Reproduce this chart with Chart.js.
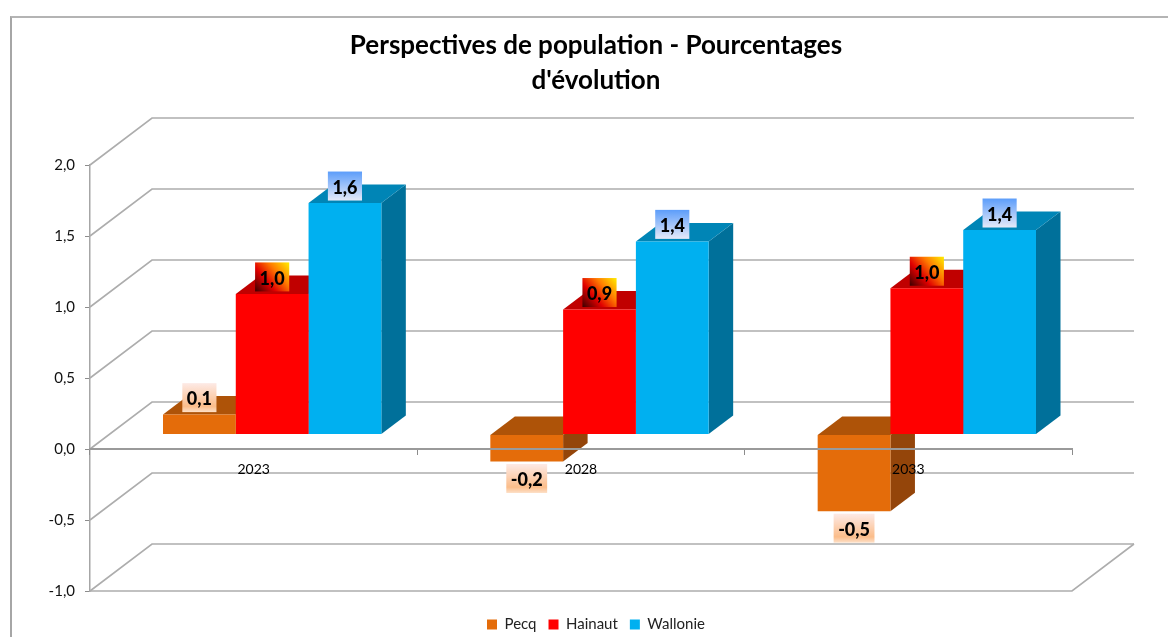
<!DOCTYPE html>
<html lang="fr">
<head>
  <meta charset="UTF-8">
  <title>Perspectives de population</title>
  <script src="https://cdn.jsdelivr.net/npm/chart.js"></script>
  <style>
    body { margin: 0; background: #fff; overflow: hidden; }
    .frame {
      position: absolute; left: 10px; top: 16px; width: 1200px; height: 700px;
      border-left: 2px solid #a6a6a6; border-top: 2px solid #b4b4b4;
    }
    .chart-container { position: absolute; left: 11px; top: 18px; width: 1170px; height: 624px; }
  </style>
</head>
<body>
  <div class="frame"></div>
  <div class="chart-container"><canvas id="chart" width="1170" height="624"></canvas></div>

  <script>
    const titleLines = ['Perspectives de population - Pourcentages', "d'évolution"];
    const categories = ['2023', '2028', '2033'];
    const pecq = [0.14, -0.19, -0.54];
    const hainaut = [0.99, 0.88, 1.03];
    const wallonie = [1.63, 1.36, 1.44];

    // 3D look: how far the walls go back, and where the bars stand in that depth
    const wallDepth = { x: 62, y: -47 };
    const barShift = { x: 18.5, y: -14.5 };
    const barDepth = { x: 24.5, y: -18.5 };
    const faceColors = [
      { top: '#ae5308', side: '#94450a' },
      { top: '#c00000', side: '#990000' },
      { top: '#0085b6', side: '#00709a' },
    ];
    const GREY = '#adadad';

    const fmt = (v) => v.toFixed(1).replace('.', ',');

    function poly(ctx, pts, color) {
      ctx.fillStyle = color;
      ctx.beginPath();
      pts.forEach((p, i) => (i ? ctx.lineTo(p[0], p[1]) : ctx.moveTo(p[0], p[1])));
      ctx.closePath();
      ctx.fill();
    }

    const wallsPlugin = {
      id: 'walls',
      beforeDatasetsDraw(chart) {
        const { ctx, chartArea: area, scales } = chart;
        ctx.save();
        ctx.strokeStyle = GREY;
        ctx.lineWidth = 1.6;
        scales.y.ticks.forEach((t) => {
          const y = scales.y.getPixelForValue(t.value);
          ctx.beginPath();
          ctx.moveTo(area.left, y);
          ctx.lineTo(area.left + wallDepth.x, y + wallDepth.y);
          ctx.lineTo(area.right + wallDepth.x, y + wallDepth.y);
          ctx.stroke();
        });
        // floor edge at the bottom of the axis
        ctx.beginPath();
        ctx.moveTo(area.left, area.bottom);
        ctx.lineTo(area.right, area.bottom);
        ctx.lineTo(area.right + wallDepth.x, area.bottom + wallDepth.y);
        ctx.stroke();
        ctx.restore();

        // bars stand a bit inside the depth, the library draws the fronts over these faces
        ctx.save();
        ctx.translate(barShift.x, barShift.y);
        chart.data.datasets.forEach((ds, i) => {
          chart.getDatasetMeta(i).data.forEach((bar) => {
            const { x, y, base, width } = bar.getProps(['x', 'y', 'base', 'width'], true);
            const l = x - width / 2;
            const r = x + width / 2;
            const top = Math.min(y, base);
            const bottom = Math.max(y, base);
            const d = barDepth;
            poly(ctx, [[r, top], [r + d.x, top + d.y], [r + d.x, bottom + d.y], [r, bottom]], faceColors[i].side);
            poly(ctx, [[l, top], [l + d.x, top + d.y], [r + d.x, top + d.y], [r, top]], faceColors[i].top);
          });
        });
      },
      afterDatasetsDraw(chart) {
        chart.ctx.restore();
      },
    };

    function labelFill(ctx, index, x, y, w, h) {
      if (index === 1) {
        const g = ctx.createLinearGradient(x, y + h, x + w, y);
        g.addColorStop(0, '#3a0000');
        g.addColorStop(0.35, '#e00000');
        g.addColorStop(0.65, '#ff7a00');
        g.addColorStop(1, '#ffee00');
        return g;
      }
      const g = ctx.createLinearGradient(0, y, 0, y + h);
      if (index === 0) {
        g.addColorStop(0, '#fdeae6');
        g.addColorStop(0.8, '#fbbd8a');
        g.addColorStop(1, '#fde0c8');
      } else {
        g.addColorStop(0, '#5c9dfa');
        g.addColorStop(1, '#e6eaf8');
      }
      return g;
    }

    const valueLabelsPlugin = {
      id: 'valueLabels',
      afterDraw(chart) {
        const { ctx } = chart;
        ctx.save();
        ctx.font = '900 18px Lato';
        ctx.textAlign = 'center';
        ctx.textBaseline = 'middle';
        chart.data.datasets.forEach((ds, i) => {
          chart.getDatasetMeta(i).data.forEach((bar, j) => {
            const v = ds.data[j];
            const text = fmt(v);
            const cx = bar.x + barShift.x;
            const cy = bar.y + barShift.y + (v < 0 ? 17 : -17);
            const w = ctx.measureText(text).width + 9;
            const h = 29;
            ctx.fillStyle = labelFill(ctx, i, cx - w / 2, cy - h / 2, w, h);
            ctx.fillRect(cx - w / 2, cy - h / 2, w, h);
            ctx.fillStyle = '#000';
            ctx.fillText(text, cx, cy + 2);
          });
        });
        ctx.restore();
      },
    };

    new Chart(document.getElementById('chart'), {
      type: 'bar',
      data: {
        labels: categories,
        datasets: [
          { label: 'Pecq', data: pecq, backgroundColor: '#e46c0a', clip: false },
          { label: 'Hainaut', data: hainaut, backgroundColor: '#ff0000', clip: false },
          { label: 'Wallonie', data: wallonie, backgroundColor: '#00b0f0', clip: false },
        ],
      },
      options: {
        responsive: false,
        animation: false,
        categoryPercentage: 0.667,
        barPercentage: 1,
        layout: { padding: 0 },
        plugins: {
          tooltip: { enabled: false },
          title: {
            display: true,
            text: titleLines,
            color: '#000',
            font: { family: 'Lato', size: 26, weight: 'bold', lineHeight: '35px' },
            padding: { top: 10.5, bottom: 66.5 },
          },
          legend: {
            position: 'bottom',
            labels: {
              boxWidth: 10,
              boxHeight: 10,
              padding: 12,
              color: '#222',
              font: { family: 'Lato', size: 15 },
            },
          },
        },
        scales: {
          x: {
            position: { y: 0 },
            grid: { drawOnChartArea: false, tickLength: 5, color: '#8c8c8c', z: 1 },
            border: { color: '#9a9a9a', width: 2, z: 1 },
            ticks: { color: '#000', font: { family: 'Lato', size: 14 }, padding: 7, z: 1, maxRotation: 0 },
          },
          y: {
            min: -1,
            max: 2,
            afterFit: (s) => { s.width = 79; },
            grid: { drawOnChartArea: false, tickLength: 5, color: '#8c8c8c' },
            border: { color: '#a6a6a6', width: 1.5 },
            ticks: {
              stepSize: 0.5,
              padding: 10,
              color: '#111',
              font: { family: 'Lato', size: 15 },
              callback: (v) => fmt(v),
            },
          },
          // empty axes, they only keep room around the plot (wall depth on the right, gap above the legend)
          spacerY: {
            type: 'linear',
            position: 'right',
            afterFit: (s) => { s.width = 109; },
            grid: { display: false },
            border: { display: false },
            ticks: { display: false },
          },
          spacerX: {
            type: 'linear',
            axis: 'x',
            position: 'bottom',
            afterFit: (s) => { s.height = 14; },
            grid: { display: false },
            border: { display: false },
            ticks: { display: false },
          },
        },
      },
      plugins: [wallsPlugin, valueLabelsPlugin],
    });
  </script>
</body>
</html>
